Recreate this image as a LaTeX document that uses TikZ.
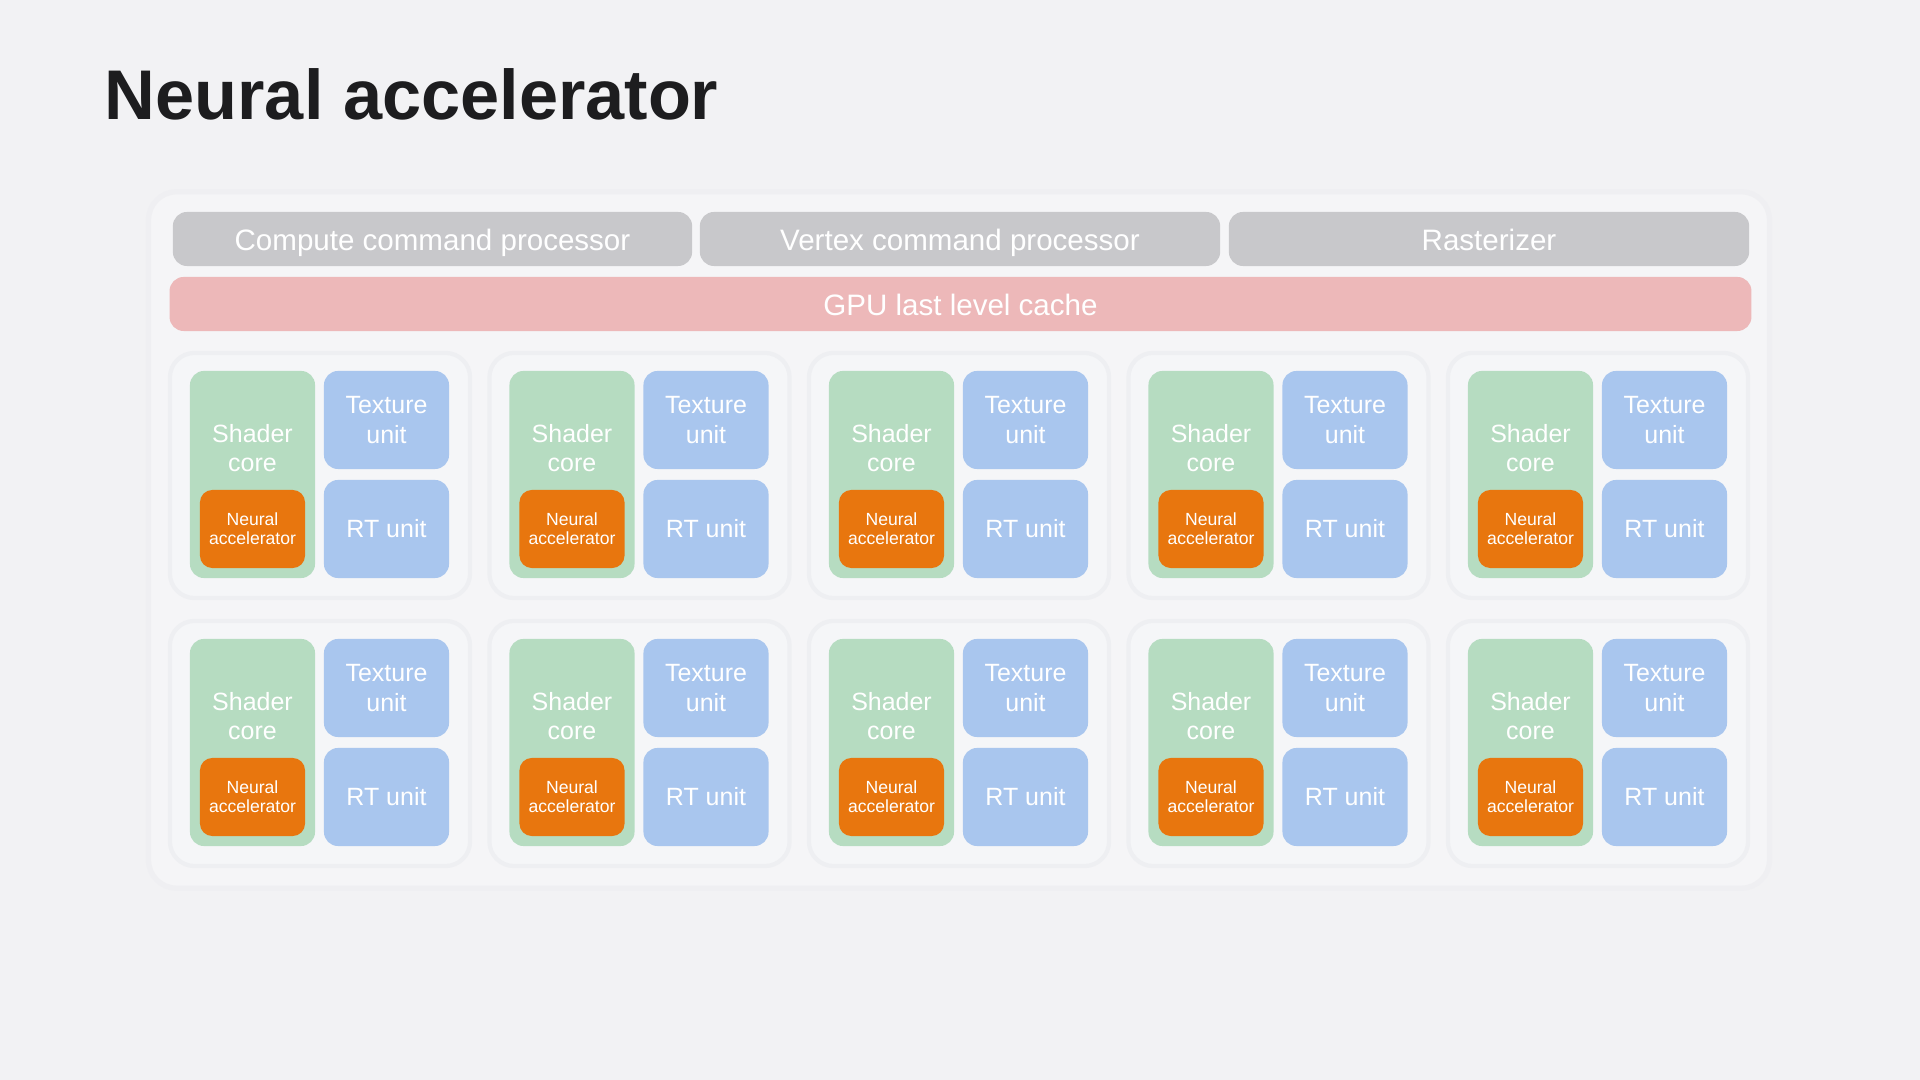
\documentclass[tikz,border=0pt]{standalone}
\usepackage{fontspec}
\setmainfont{Liberation Sans}

\definecolor{bgcol}{HTML}{F2F2F4}
\definecolor{panelcol}{HTML}{F5F5F7}
\definecolor{paneledge}{HTML}{EFEFF2}
\definecolor{tilecol}{HTML}{F5F6F8}
\definecolor{tileedge}{HTML}{EEEFF2}
\definecolor{graycol}{HTML}{C8C8CB}
\definecolor{cachecol}{HTML}{EDB8B9}
\definecolor{shadercol}{HTML}{B6DCC1}
\definecolor{unitcol}{HTML}{A9C6EE}
\definecolor{neuralcol}{HTML}{E8760E}
\definecolor{titlecol}{HTML}{1D1D1F}

\begin{document}
\begin{tikzpicture}[x=0.01cm, y=-0.01cm,
  bar/.style={rounded corners=4pt, inner sep=0pt, minimum height=0.54cm,
              text height=1.6ex, text depth=0.4ex,
              text=white, font=\fontsize{8.4}{10}\selectfont, fill=#1},
  tile/.style={rounded corners=7pt, fill=tilecol, draw=tileedge,
               line width=1.2pt, minimum width=3cm,
               minimum height=2.45cm, inner sep=0pt},
  cell/.style={rounded corners=4pt, inner sep=0pt, minimum width=1.25cm,
               fill=#1},
  celltext/.style={text=white, align=center,
                   font=\fontsize{7.1}{8.3}\selectfont},
  neural/.style={rounded corners=3.5pt, inner sep=0pt, minimum width=1.05cm,
                 minimum height=0.78cm, fill=neuralcol, text=white,
                 align=center, font=\fontsize{5}{5.4}\selectfont}
]
  % --- fond et cadre ---
  \fill[bgcol] (0,0) rectangle (1920,1080);
  \useasboundingbox (0,0) rectangle (1920,1080);

  \node[anchor=base west, text=titlecol, inner sep=0pt,
        font=\fontsize{20}{24}\selectfont\bfseries] (title) at (104,120)
        {Neural accelerator};

  \node[rounded corners=8pt, fill=panelcol, draw=paneledge, line width=1.5pt,
        minimum width=16.2cm, minimum height=6.96cm, inner sep=0pt]
        (panel) at (959,540) {};

  % --- Processeurs de commande ---
  \node[bar=graycol, minimum width=5.19cm] (compute) at (432.5,239) {Compute command processor};
  \node[bar=graycol, minimum width=5.20cm] (vertex)  at (960,239)   {Vertex command processor};
  \node[bar=graycol, minimum width=5.20cm] (raster)  at (1489,239)  {Rasterizer};

  % --- Cache ---
  \node[bar=cachecol, minimum width=15.81cm] (cache) at (960.5,304) {GPU last level cache};

  % --- Coeurs GPU ---
  \foreach \row in {0,1} {
    \foreach \col in {0,...,4} {
      \pgfmathsetmacro{\L}{190+319.5*\col}
      \pgfmathsetmacro{\T}{371+268*\row}
      \node[tile] (tile-\row-\col) at (\L+130,\T+104.5) {};
      \node[cell=shadercol, minimum height=2.07cm] (shader-\row-\col) at (\L+62.5,\T+103.5) {};
      \node[celltext] (shadertxt-\row-\col) at (\L+62.5,\T+77) {Shader\\core};
      \node[cell=unitcol, minimum height=0.98cm, celltext] (texture-\row-\col) at (\L+196.5,\T+49) {Texture\\unit};
      \node[cell=unitcol, minimum height=0.98cm, celltext] (rt-\row-\col) at (\L+196.5,\T+158) {RT unit};
      \node[neural] (neural-\row-\col) at (\L+62.5,\T+158) {Neural\\accelerator};
    }
  }
\end{tikzpicture}
\end{document}
